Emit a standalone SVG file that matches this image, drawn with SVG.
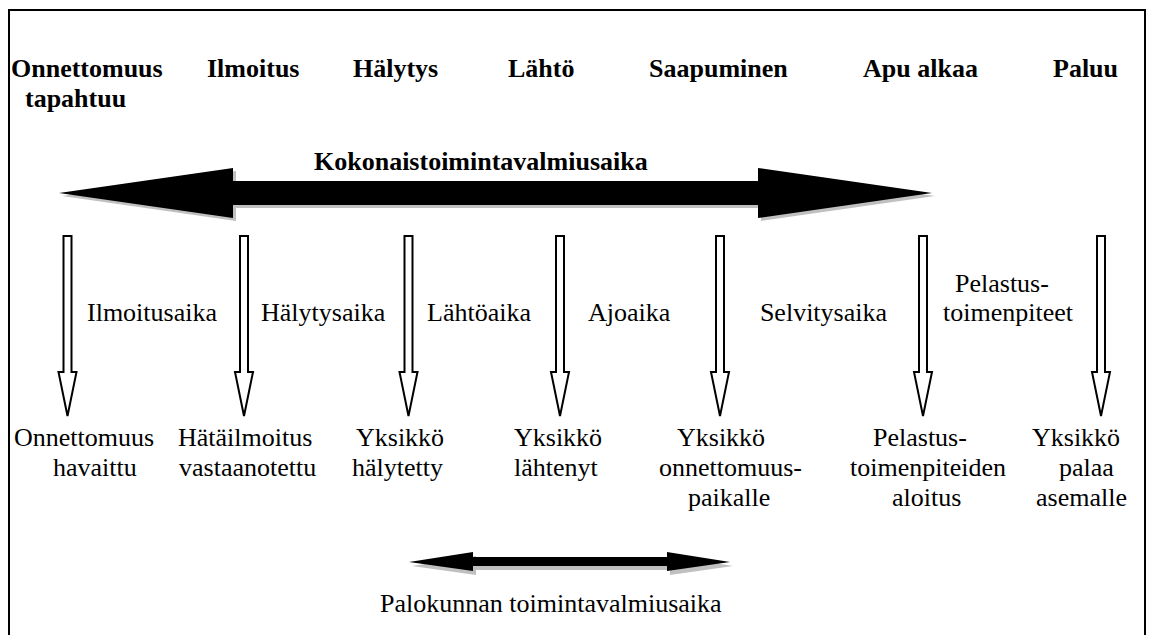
<svg xmlns="http://www.w3.org/2000/svg" width="1149" height="635" viewBox="0 0 1149 635">
<defs>
<style>
text{font-family:"Liberation Serif","Times New Roman",Times,"Nimbus Roman","Nimbus Roman No9 L",FreeSerif,"DejaVu Serif","Noto Serif",serif;font-size:26px;fill:#000}
.b{font-weight:bold}
.down{fill:#fff;stroke:#000;stroke-width:2;stroke-linejoin:miter}
.sh{fill:#c0c0c0}
.blk{fill:#000}
</style>
<path id="dn" d="M-4,236 H4 V372 H9 L0,416 L-9,372 H-4 Z"/>
<path id="big" d="M59,193 L233,168 V181 H758 V168 L932,193 L758,218 V205 H233 V218 Z"/>
<path id="small" d="M409,562 L473,552 V557 H667 V552 L730,562 L667,571 V566 H473 V571 Z"/>
</defs>
<rect width="1149" height="635" fill="#fff"/>
<path d="M9,636 V10 H1145 V636" fill="none" stroke="#000" stroke-width="2"/>

<g id="top-labels">
<text class="b" x="11" y="77">Onnettomuus</text>
<text class="b" x="25" y="107">tapahtuu</text>
<text class="b" x="207" y="77">Ilmoitus</text>
<text class="b" x="353" y="77">Hälytys</text>
<text class="b" x="508" y="77">Lähtö</text>
<text class="b" x="649" y="77">Saapuminen</text>
<text class="b" x="863" y="77">Apu alkaa</text>
<text class="b" x="1053" y="77">Paluu</text>
</g>

<g id="total-arrow">
<use href="#big" class="sh" transform="translate(3,3)"/>
<use href="#big" class="blk"/>
<text class="b" x="314" y="170">Kokonaistoimintavalmiusaika</text>
</g>

<g id="connectors">
<use href="#dn" class="down" transform="translate(67.5,0)"/>
<use href="#dn" class="down" transform="translate(244,0)"/>
<use href="#dn" class="down" transform="translate(408.5,0)"/>
<use href="#dn" class="down" transform="translate(560,0)"/>
<use href="#dn" class="down" transform="translate(720,0)"/>
<use href="#dn" class="down" transform="translate(923,0)"/>
<use href="#dn" class="down" transform="translate(1101,0)"/>
</g>

<g id="interval-labels">
<text x="87" y="321">Ilmoitusaika</text>
<text x="261" y="321">Hälytysaika</text>
<text x="427" y="321">Lähtöaika</text>
<text x="588" y="321">Ajoaika</text>
<text x="887" y="321" text-anchor="end">Selvitysaika</text>
<text x="955" y="292">Pelastus-</text>
<text x="943" y="321">toimenpiteet</text>
</g>

<g id="n1"><text x="14" y="446">Onnettomuus</text><text x="53" y="476">havaittu</text></g>
<g id="n2"><text x="178" y="446">Hätäilmoitus</text><text x="179" y="476">vastaanotettu</text></g>
<g id="n3"><text x="356" y="446">Yksikkö</text><text x="352" y="476">hälytetty</text></g>
<g id="n4"><text x="514" y="446">Yksikkö</text><text x="514" y="476">lähtenyt</text></g>
<g id="n5"><text x="677" y="446">Yksikkö</text><text x="659" y="476">onnettomuus-</text><text x="688" y="506">paikalle</text></g>
<g id="n6"><text x="873" y="446">Pelastus-</text><text x="850" y="476">toimenpiteiden</text><text x="892" y="506">aloitus</text></g>
<g id="n7"><text x="1032" y="446">Yksikkö</text><text x="1059" y="476">palaa</text><text x="1036" y="506">asemalle</text></g>

<g id="fire-arrow">
<use href="#small" class="sh" transform="translate(3,4)"/>
<use href="#small" class="blk"/>
<text x="380" y="612">Palokunnan toimintavalmiusaika</text>
</g>
</svg>
